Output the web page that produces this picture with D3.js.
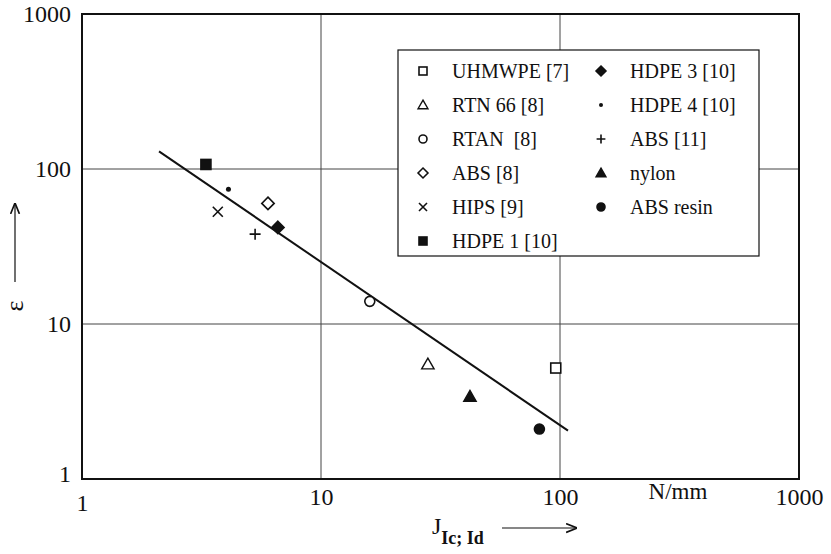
<!DOCTYPE html>
<meta charset="utf-8">
<head>
    <title>Strain vs J integral</title>
    <script type="text/javascript" src="https://cdn.jsdelivr.net/npm/d3@7"></script>
    <style>
        body { margin: 0; background: white; }
        text { font-family: "Liberation Serif", "Times New Roman", serif; fill: #111; }
    </style>
</head>
<body>
<script>
    // data
    const series = ["UHMWPE [7]", "RTN 66 [8]", "RTAN  [8]", "ABS [8]", "HIPS [9]", "HDPE 1 [10]",
                    "HDPE 3 [10]", "HDPE 4 [10]", "ABS [11]", "nylon", "ABS resin"]
    const jValues   = [96, 28, 16, 6.0, 3.7, 3.3, 6.6, 4.1, 5.3, 42, 82]
    const epsValues = [5.2, 5.5, 14, 60, 53, 107, 42, 74, 38, 3.4, 2.1]
    const symbols   = ["square", "triangle", "circle", "diamond", "x", "square",
                       "diamond", "dot", "plus", "triangle", "circle"]
    const filled    = [false, false, false, false, false, true, true, true, false, true, true]
    const fitJ   = [2.1, 108]
    const fitEps = [130, 2.05]
    const tickValues = [1, 10, 100, 1000]

    const w = 831, h = 554
    const margin = {top: 14, right: 32, bottom: 75, left: 82}

    const svg = d3.select("body").append("svg")
        .attr("width", w).attr("height", h)

    const x = d3.scaleLog().domain([1, 1000]).range([margin.left, w - margin.right])
    const y = d3.scaleLog().domain([1, 1000]).range([h - margin.bottom, margin.top])

    // grid
    svg.append("g").selectAll("line.gx")
        .data([10, 100]).enter().append("line")
        .attr("x1", d => x(d)).attr("x2", d => x(d))
        .attr("y1", y(1)).attr("y2", y(1000))
        .attr("stroke", "#444").attr("stroke-width", 1)
    svg.append("g").selectAll("line.gy")
        .data([10, 100]).enter().append("line")
        .attr("y1", d => y(d)).attr("y2", d => y(d))
        .attr("x1", x(1)).attr("x2", x(1000))
        .attr("stroke", "#444").attr("stroke-width", 1)

    // frame
    svg.append("rect")
        .attr("x", x(1)).attr("y", y(1000))
        .attr("width", x(1000) - x(1)).attr("height", y(1) - y(1000))
        .attr("fill", "none").attr("stroke", "#111").attr("stroke-width", 2)

    // axes labels
    const xAxis = svg.append("g")
        .attr("transform", "translate(0," + y(1) + ")")
        .call(d3.axisBottom(x).tickValues(tickValues).tickSize(0).tickPadding(7).tickFormat(d3.format("d")))
    xAxis.select(".domain").remove()
    xAxis.selectAll("text").style("font-size", "24px").style("font-family", "Liberation Serif")
        .attr("fill", "#111").attr("dy", "0.8em")
    xAxis.selectAll(".tick").filter(d => d === 1).select("text").attr("dy", "1.05em")

    const yAxis = svg.append("g")
        .attr("transform", "translate(" + x(1) + ",0)")
        .call(d3.axisLeft(y).tickValues(tickValues).tickSize(0).tickPadding(11).tickFormat(d3.format("d")))
    yAxis.select(".domain").remove()
    yAxis.selectAll("text").style("font-size", "24px").style("font-family", "Liberation Serif")
        .attr("fill", "#111")
    yAxis.selectAll(".tick").filter(d => d === 1).select("text").attr("dy", "0.1em")

    svg.append("text").attr("x", 678).attr("y", 499).attr("text-anchor", "middle")
        .style("font-size", "23px").text("N/mm")

    // x title with subscript and arrow
    const xt = svg.append("text").attr("x", 432).attr("y", 534).style("font-size", "24px")
    xt.append("tspan").text("J")
    xt.append("tspan").attr("dy", 10).style("font-size", "18px").style("font-weight", "bold").text("Ic; Id")

    const defs = svg.append("defs")
    defs.append("marker").attr("id", "arrow")
        .attr("viewBox", "0 0 10 10").attr("refX", 9).attr("refY", 5)
        .attr("markerWidth", 11).attr("markerHeight", 11).attr("markerUnits", "userSpaceOnUse")
        .attr("orient", "auto")
        .append("path").attr("d", "M0,1 L10,5 L0,9").attr("fill", "none").attr("stroke", "#111").attr("stroke-width", 1.5)

    svg.append("line").attr("x1", 502).attr("x2", 576).attr("y1", 528).attr("y2", 528)
        .attr("stroke", "#111").attr("stroke-width", 1.2).attr("marker-end", "url(#arrow)")

    // y title
    svg.append("line").attr("x1", 15).attr("x2", 15).attr("y1", 282).attr("y2", 204)
        .attr("stroke", "#111").attr("stroke-width", 1.2).attr("marker-end", "url(#arrow)")
    svg.append("text").attr("transform", "translate(23,306) rotate(-90)")
        .attr("text-anchor", "middle").style("font-size", "26px").text("ε")

    // fit line
    svg.append("line")
        .attr("x1", x(fitJ[0])).attr("y1", y(fitEps[0]))
        .attr("x2", x(fitJ[1])).attr("y2", y(fitEps[1]))
        .attr("stroke", "#111").attr("stroke-width", 2)

    function drawSymbol(g, type, isFilled, s) {
        const fill = isFilled ? "#111" : "white"
        if (type === "square") {
            g.append("rect").attr("x", -s / 2).attr("y", -s / 2).attr("width", s).attr("height", s)
                .attr("fill", fill).attr("stroke", "#111").attr("stroke-width", 1.6)
        } else if (type === "diamond") {
            const r = s * 0.62
            g.append("path").attr("d", `M0,${-r}L${r},0L0,${r}L${-r},0Z`)
                .attr("fill", fill).attr("stroke", "#111").attr("stroke-width", 1.6)
        } else if (type === "triangle") {
            const r = s * 0.62
            g.append("path").attr("d", `M0,${-r}L${r},${r * 0.75}L${-r},${r * 0.75}Z`)
                .attr("fill", fill).attr("stroke", "#111").attr("stroke-width", 1.4)
        } else if (type === "circle") {
            g.append("circle").attr("r", s / 2).attr("fill", fill).attr("stroke", "#111").attr("stroke-width", 1.6)
        } else if (type === "dot") {
            g.append("circle").attr("r", s * 0.25).attr("fill", "#111")
        } else if (type === "plus") {
            const r = s * 0.55
            g.append("path").attr("d", `M${-r},0H${r}M0,${-r}V${r}`).attr("stroke", "#111").attr("stroke-width", 1.6)
        } else if (type === "x") {
            const r = s * 0.5
            g.append("path").attr("d", `M${-r},${-r}L${r},${r}M${-r},${r}L${r},${-r}`).attr("stroke", "#111").attr("stroke-width", 1.6)
        }
    }

    // points
    series.forEach((name, i) => {
        const g = svg.append("g").attr("transform", "translate(" + x(jValues[i]) + "," + y(epsValues[i]) + ")")
        drawSymbol(g, symbols[i], filled[i], 10)
    })

    // legend
    const legend = svg.append("g").attr("id", "legend")
    legend.append("rect").attr("x", 398).attr("y", 50).attr("width", 361).attr("height", 206)
        .attr("fill", "white").attr("stroke", "#111").attr("stroke-width", 1.2)

    series.forEach((name, i) => {
        const col = i < 6 ? 0 : 1
        const row = i < 6 ? i : i - 6
        const cy = 71 + row * 34
        const g = legend.append("g").attr("transform", "translate(" + (col ? 601 : 423) + "," + cy + ")")
        drawSymbol(g, symbols[i], filled[i], 8)
        legend.append("text").attr("x", col ? 630 : 452).attr("y", cy).attr("dy", "0.35em")
            .style("font-size", "20px").style("white-space", "pre").text(name)
    })
</script>
</body>
</html>
